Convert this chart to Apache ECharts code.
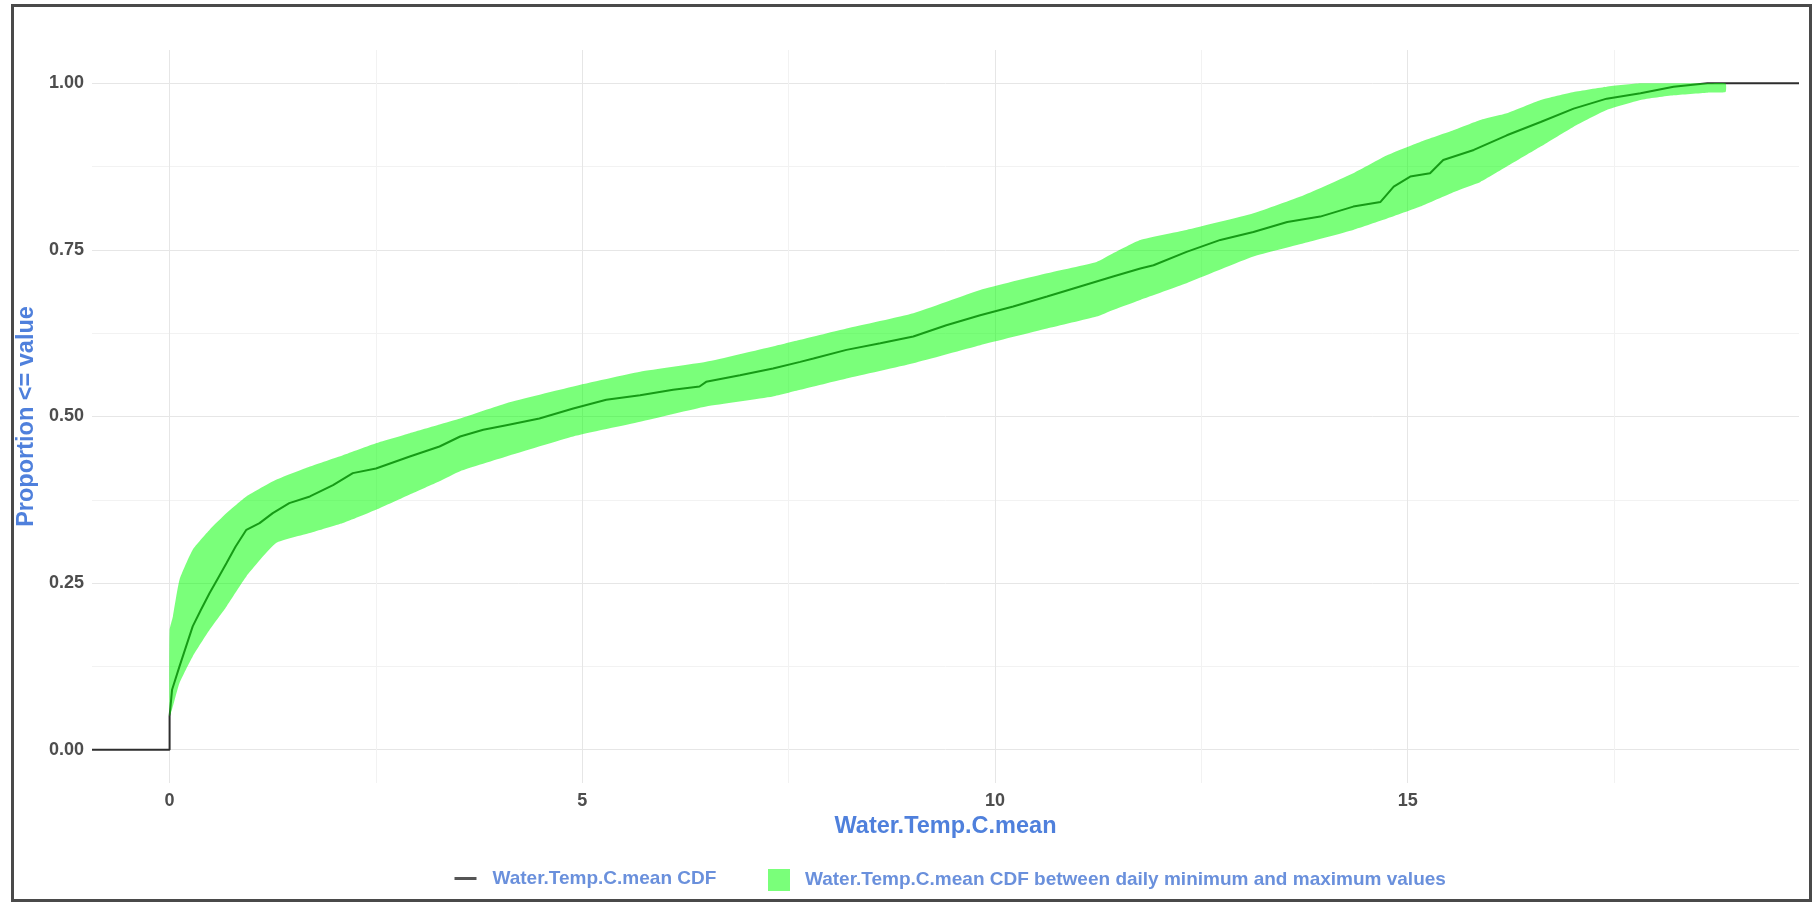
<!DOCTYPE html>
<html>
<head>
<meta charset="utf-8">
<script src="https://cdn.jsdelivr.net/npm/echarts@6/dist/echarts.min.js"></script>
<style>
  html, body { margin: 0; padding: 0; background: #fff; }
  #chart { position: absolute; left: 0; top: 0; width: 1815px; height: 903px; }
  #frame { position: absolute; left: 11px; top: 4px; width: 1801px; height: 898px;
           box-sizing: border-box; border: 3px solid #4a4a4a; pointer-events: none; }
</style>
</head>
<body>
<div id="chart"></div>
<div id="frame"></div>
<script>
// ---- Axis ranges and ticks ----
const xMin = -0.94, xMax = 19.74;
const yMin = -0.05, yMax = 1.05;
const xMajorTicks = [0, 5, 10, 15];
const xMinorTicks = [2.5, 7.5, 12.5, 17.5];
const yMajorTicks = [0, 0.25, 0.5, 0.75, 1];
const yMinorTicks = [0.125, 0.375, 0.625, 0.875];

// ---- Empirical CDF of the daily mean ----
const cdfX = [xMin, 0, 0, 0.03, 0.12, 0.2, 0.28, 0.38, 0.485, 0.59, 0.69, 0.8, 0.93, 1.09, 1.25, 1.45, 1.7, 1.98, 2.22, 2.5, 2.91, 3.27, 3.52, 3.8, 4.08, 4.48, 4.89, 5.29, 5.7, 6.1, 6.42, 6.5, 6.91, 7.31, 7.64, 7.8, 8.2, 8.61, 9.01, 9.41, 9.82, 10.22, 10.63, 11.03, 11.43, 11.76, 11.92, 12.32, 12.73, 13.13, 13.54, 13.94, 14.34, 14.67, 14.83, 15.03, 15.27, 15.43, 15.8, 16.2, 16.61, 17.01, 17.41, 17.82, 18.22, 18.63, xMax];
const cdfY = [0, 0, 0.05, 0.09, 0.125, 0.155, 0.185, 0.21, 0.235, 0.258, 0.28, 0.305, 0.33, 0.34, 0.355, 0.37, 0.38, 0.397, 0.415, 0.422, 0.44, 0.455, 0.47, 0.48, 0.487, 0.497, 0.512, 0.525, 0.532, 0.54, 0.545, 0.552, 0.562, 0.572, 0.582, 0.587, 0.6, 0.61, 0.62, 0.637, 0.652, 0.665, 0.68, 0.695, 0.71, 0.722, 0.727, 0.747, 0.765, 0.777, 0.792, 0.8, 0.815, 0.822, 0.845, 0.86, 0.865, 0.885, 0.9, 0.922, 0.942, 0.962, 0.977, 0.985, 0.995, 1.0, 1.0];

// ---- CDF band between daily minimum and maximum ----
const bandX = [0, 0.04, 0.12, 0.28, 0.485, 0.69, 0.93, 1.29, 1.7, 2.1, 2.5, 2.91, 3.27, 3.52, 4.08, 4.89, 5.7, 6.5, 7.31, 7.64, 8.2, 9.01, 9.82, 10.63, 11.23, 11.43, 11.76, 12.32, 13.13, 13.74, 14.34, 14.75, 15.15, 15.56, 15.88, 16.2, 16.61, 17.01, 17.41, 17.82, 18.22, 18.63, 18.85];
const bandUpper = [0.18, 0.2, 0.255, 0.3, 0.33, 0.355, 0.38, 0.405, 0.425, 0.442, 0.46, 0.475, 0.488, 0.497, 0.52, 0.545, 0.567, 0.582, 0.605, 0.615, 0.632, 0.655, 0.69, 0.715, 0.732, 0.745, 0.765, 0.78, 0.805, 0.832, 0.865, 0.892, 0.912, 0.93, 0.945, 0.955, 0.975, 0.987, 0.995, 1.0, 1.0, 1.0, 1.0];
const bandLower = [0.05, 0.065, 0.1, 0.14, 0.18, 0.215, 0.26, 0.31, 0.325, 0.34, 0.36, 0.383, 0.403, 0.418, 0.44, 0.47, 0.492, 0.515, 0.53, 0.54, 0.557, 0.58, 0.607, 0.632, 0.65, 0.66, 0.675, 0.7, 0.74, 0.76, 0.78, 0.797, 0.815, 0.837, 0.852, 0.875, 0.905, 0.935, 0.96, 0.975, 0.982, 0.986, 0.987];

const lineName = 'Water.Temp.C.mean CDF';
const bandName = 'Water.Temp.C.mean CDF between daily minimum and maximum values';

const FONT = '"Liberation Sans", Arial, sans-serif';
const titleColor = '#4f80dc';
const legendColor = '#6a90dc';
const tickColor = '#4d4d4d';
const bandColor = 'rgba(0,255,0,0.52)';

const cdfData = cdfX.map((x, i) => [x, cdfY[i]]);
const bandData = bandX.map((x, i) => [x, bandLower[i], bandUpper[i]]);

// One polygon through all band points, positioned via the axes' scales
function renderBand(params, api) {
  if (params.dataIndexInside !== 0) return null;
  const n = params.dataInsideLength;
  const upperPts = [], lowerPts = [];
  for (let i = 0; i < n; i++) {
    const x = api.value(0, i);
    lowerPts.push(api.coord([x, api.value(1, i)]));
    upperPts.push(api.coord([x, api.value(2, i)]));
  }
  const points = upperPts.concat(lowerPts.reverse());
  return {
    type: 'polygon',
    shape: { points: points, smooth: 0.15 },
    style: { fill: bandColor, stroke: null }
  };
}

const chart = echarts.init(document.getElementById('chart'), null, { renderer: 'canvas' });
chart.setOption({
  animation: false,
  backgroundColor: '#ffffff',
  grid: { left: 92, right: 16, top: 50, bottom: 120, containLabel: false, outerBoundsMode: 'none' },
  xAxis: [{
    type: 'value', min: xMin, max: xMax,
    name: 'Water.Temp.C.mean', nameLocation: 'middle', nameGap: 30,
    nameTextStyle: { color: titleColor, fontSize: 23.5, fontWeight: 'bold', fontFamily: FONT },
    axisLine: { show: false }, axisTick: { show: false, customValues: xMajorTicks },
    axisLabel: { customValues: xMajorTicks, margin: 9,
      color: tickColor, fontSize: 18, fontWeight: 'bold', fontFamily: FONT },
    splitLine: { show: true, lineStyle: { color: '#e6e6e6', width: 1 } }
  }, {
    type: 'value', min: xMin, max: xMax, position: 'bottom',
    axisLine: { show: false }, axisTick: { show: false, customValues: xMinorTicks },
    axisLabel: { show: false, customValues: xMinorTicks },
    splitLine: { show: true, lineStyle: { color: '#f2f2f2', width: 1 } }
  }],
  yAxis: [{
    type: 'value', min: yMin, max: yMax,
    name: 'Proportion <= value', nameLocation: 'middle', nameGap: 50,
    nameTextStyle: { color: titleColor, fontSize: 23.5, fontWeight: 'bold', fontFamily: FONT },
    axisLine: { show: false }, axisTick: { show: false, customValues: yMajorTicks },
    axisLabel: { customValues: yMajorTicks, margin: 8,
      formatter: v => Number(v).toFixed(2),
      color: tickColor, fontSize: 18, fontWeight: 'bold', fontFamily: FONT },
    splitLine: { show: true, lineStyle: { color: '#e6e6e6', width: 1 } }
  }, {
    type: 'value', min: yMin, max: yMax, position: 'left',
    axisLine: { show: false }, axisTick: { show: false, customValues: yMinorTicks },
    axisLabel: { show: false, customValues: yMinorTicks },
    splitLine: { show: true, lineStyle: { color: '#f2f2f2', width: 1 } }
  }],
  legend: [{
    data: [{ name: lineName, itemStyle: { opacity: 0 } }],
    left: 448, top: 864, itemWidth: 22, itemHeight: 22,
    lineStyle: { width: 3, color: '#555555' },
    textStyle: { color: legendColor, fontSize: 19, fontWeight: 'bold', fontFamily: FONT, padding: [0, 0, 0, 11] }
  }, {
    data: [{ name: bandName, icon: 'rect', itemStyle: { color: bandColor } }],
    left: 763, top: 864, itemWidth: 22, itemHeight: 22,
    textStyle: { color: legendColor, fontSize: 19, fontWeight: 'bold', fontFamily: FONT, padding: [0, 0, 0, 10] }
  }],
  series: [
    {
      name: bandName, type: 'custom', data: bandData,
      encode: { x: 0, y: [1, 2] },
      renderItem: renderBand,
      itemStyle: { color: bandColor },
      silent: true, z: 3
    },
    {
      name: lineName, type: 'line', data: cdfData, symbol: 'none',
      itemStyle: { color: '#333333' },
      lineStyle: { color: '#2e2e2e', width: 2 }, z: 2
    }
  ]
});
</script>
</body>
</html>
